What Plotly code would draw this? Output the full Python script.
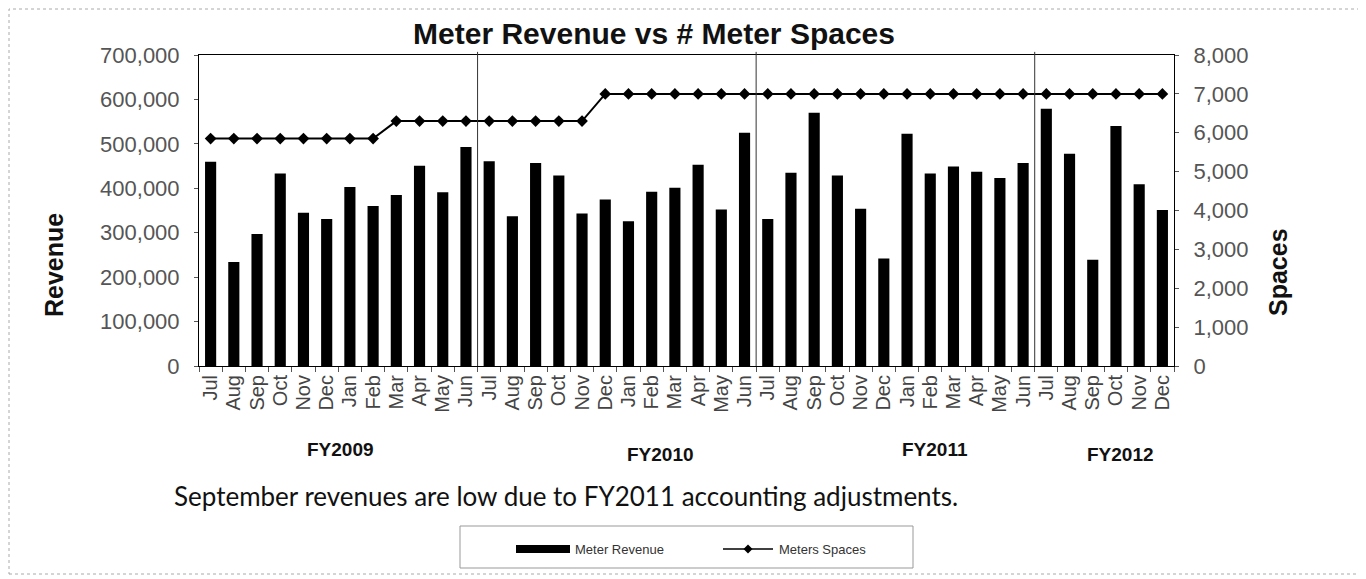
import plotly.graph_objects as go

months = ["Jul", "Aug", "Sep", "Oct", "Nov", "Dec", "Jan", "Feb", "Mar", "Apr", "May", "Jun",
          "Jul", "Aug", "Sep", "Oct", "Nov", "Dec", "Jan", "Feb", "Mar", "Apr", "May", "Jun",
          "Jul", "Aug", "Sep", "Oct", "Nov", "Dec", "Jan", "Feb", "Mar", "Apr", "May", "Jun",
          "Jul", "Aug", "Sep", "Oct", "Nov", "Dec"]
revenue = [460000, 234000, 297000, 433000, 345000, 331000, 403000, 360000, 385000, 451000, 391000, 493000,
           461000, 337000, 457000, 429000, 343000, 375000, 326000, 392000, 401000, 453000, 352000, 525000,
           331000, 435000, 570000, 429000, 354000, 242000, 523000, 433000, 449000, 437000, 423000, 457000,
           579000, 478000, 239000, 540000, 409000, 351000]
spaces = [5850] * 8 + [6300] * 4 + [6300] * 5 + [7000] * 7 + [7000] * 12 + [7000] * 6
fiscal_years = ["FY2009", "FY2010", "FY2011", "FY2012"]
fy_label_x = [5.6, 19.4, 31.2, 39.2]
fy_label_y = [-0.267, -0.286, -0.267, -0.286]
separators = [11.5, 23.5, 35.5]

x = list(range(len(months)))
font = "Liberation Sans, Arial, sans-serif"

# plot area in screen px (page has 8px body margin)
PL, PR, PT, PB = 199, 1174, 55, 366
OFF = 8
W, H = 1366, 579


def px(sx):
    return (sx - PL) / (PR - PL)


def py(sy):
    return (PB - sy) / (PB - PT)


fig = go.Figure()
fig.add_trace(go.Bar(x=x, y=revenue, name="Meter Revenue", marker=dict(color="black", line=dict(width=0)),
                     yaxis="y"))
fig.add_trace(go.Scatter(x=x, y=spaces, name="Meters Spaces", mode="lines+markers", yaxis="y2",
                         line=dict(color="black", width=2),
                         marker=dict(symbol="diamond", size=9, color="black")))

shapes = []
for s in separators:
    shapes.append(dict(type="line", xref="x", yref="paper", x0=s, x1=s, y0=0, y1=1.01,
                       line=dict(color="#333", width=1)))
# outer dotted border
shapes.append(dict(type="rect", xref="paper", yref="paper", x0=px(9), x1=px(1362), y0=py(574), y1=py(9),
                   line=dict(color="#aaa", width=1, dash="dot")))
# custom legend box
shapes.append(dict(type="rect", xref="paper", yref="paper", x0=px(460), x1=px(913), y0=py(568), y1=py(526),
                   line=dict(color="#999", width=1), fillcolor="white"))
shapes.append(dict(type="rect", xref="paper", yref="paper", x0=px(516), x1=px(570), y0=py(553), y1=py(545),
                   line=dict(width=0), fillcolor="black"))
shapes.append(dict(type="line", xref="paper", yref="paper", x0=px(723), x1=px(773), y0=py(549), y1=py(549),
                   line=dict(color="black", width=1.5)))
d = 4.5
shapes.append(dict(type="path", xref="paper", yref="paper",
                   path=f"M {px(748 - d)} {py(549)} L {px(748)} {py(549 - d)} L {px(748 + d)} {py(549)} "
                        f"L {px(748)} {py(549 + d)} Z",
                   line=dict(width=0), fillcolor="black"))

annotations = []
for fy, fx, fyy in zip(fiscal_years, fy_label_x, fy_label_y):
    annotations.append(dict(text=f"<b>{fy}</b>", x=fx, y=fyy, xref="x", yref="paper", showarrow=False,
                            font=dict(family=font, size=19, color="#111"), xanchor="center", yanchor="middle"))
annotations.append(dict(text="September revenues are low due to FY2011 accounting adjustments.",
                        x=px(172), y=py(496), xref="paper", yref="paper",
                        showarrow=False, xanchor="left", yanchor="middle",
                        font=dict(family="Lato, Open Sans, sans-serif", size=26, color="#111")))
annotations.append(dict(text="Meter Revenue", x=px(573), y=py(549), xref="paper", yref="paper",
                        showarrow=False, xanchor="left", yanchor="middle",
                        font=dict(family=font, size=13, color="#333")))
annotations.append(dict(text="Meters Spaces", x=px(777), y=py(549), xref="paper", yref="paper",
                        showarrow=False, xanchor="left", yanchor="middle",
                        font=dict(family=font, size=13, color="#333")))
annotations.append(dict(text="<b>Revenue</b>", x=px(54), y=py(265), xref="paper", yref="paper",
                        showarrow=False, textangle=-90, xanchor="center", yanchor="middle",
                        font=dict(family=font, size=25, color="#111")))
annotations.append(dict(text="<b>Spaces</b>", x=px(1278), y=py(272), xref="paper", yref="paper",
                        showarrow=False, textangle=-90, xanchor="center", yanchor="middle",
                        font=dict(family=font, size=25, color="#111")))

fig.update_layout(
    width=W, height=H,
    margin=dict(l=PL - OFF, r=W - PR + OFF, t=PT - OFF, b=H - PB + OFF),
    paper_bgcolor="white", plot_bgcolor="white",
    title=dict(text="<b>Meter Revenue vs # Meter Spaces</b>", x=(654 - OFF) / W, y=1 - (33 - OFF) / H,
               xanchor="center", yanchor="middle", font=dict(family=font, size=30, color="#111")),
    bargap=0.52,
    showlegend=False,
    xaxis=dict(range=[-0.5, len(months) - 0.5], tickmode="array", tickvals=x, ticktext=months,
               tickangle=-90, ticks="", showgrid=False, zeroline=False,
               showline=True, linecolor="black", linewidth=1, mirror=True,
               tickfont=dict(family=font, size=20, color="#444"),
               minor=dict(tick0=-0.5, dtick=1, ticks="outside", ticklen=5, tickcolor="#555")),
    yaxis=dict(range=[0, 700000], dtick=100000, tickformat=",d", showgrid=False, zeroline=False,
               showline=True, linecolor="black", linewidth=1, ticks="outside", ticklen=4, tickcolor="#555",
               ticklabelstandoff=10,
               tickfont=dict(family=font, size=22, color="#555")),
    yaxis2=dict(range=[0, 8000], dtick=1000, tickformat=",d", overlaying="y", side="right", showgrid=False,
                zeroline=False, showline=True, linecolor="black", linewidth=1, ticks="outside", ticklen=4,
                ticklabelstandoff=10,
                tickcolor="#555", tickfont=dict(family=font, size=22, color="#555")),
    shapes=shapes,
    annotations=annotations,
)

fig.write_html("out.html")
